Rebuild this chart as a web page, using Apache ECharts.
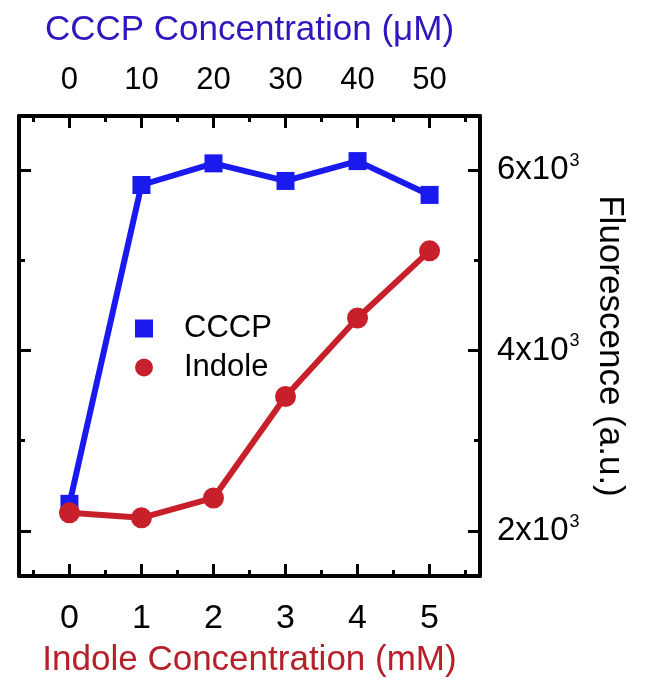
<!DOCTYPE html>
<html>
<head>
<meta charset="utf-8">
<script src="https://cdn.jsdelivr.net/npm/echarts@6/dist/echarts.min.js"></script>
<style>
  html, body { margin: 0; padding: 0; background: #fff; }
  #chart { width: 646px; height: 683px; }
</style>
</head>
<body>
<div id="chart"></div>
<script>
// concentrations (indole mM on bottom, CCCP uM on top = 10x)
const conc = [0, 1, 2, 3, 4, 5];
const cccpVals = [2300, 5835, 6075, 5880, 6100, 5725];
const indoleVals = [2200, 2145, 2365, 3490, 4360, 5105];
const majorX = [0, 1, 2, 3, 4, 5];
const minorX = [-0.5, 0.5, 1.5, 2.5, 3.5, 4.5, 5.5];
const majorY = [2000, 4000, 6000];
const minorY = [3000, 5000];

const FONT = 'Liberation Sans';
const lineStyle = { color: '#000', width: 4 };

function tickAxis(pos, ticks, len, showLine) {
    return {
        type: 'value', position: pos,
        min: -0.7, max: 5.7,
        axisLine: { show: showLine, onZero: false, lineStyle: lineStyle },
        axisTick: { show: true, inside: true, length: len, customValues: ticks, lineStyle: { color: '#000', width: 3 } },
        axisLabel: { show: false },
        splitLine: { show: false }
    };
}
function tickYAxis(pos, ticks, len, showLine) {
    return {
        type: 'value', position: pos,
        min: 1500, max: 6600,
        axisLine: { show: showLine, onZero: false, lineStyle: lineStyle },
        axisTick: { show: true, inside: true, length: len, customValues: ticks, lineStyle: { color: '#000', width: 3 } },
        axisLabel: { show: false },
        splitLine: { show: false }
    };
}

const chart = echarts.init(document.getElementById('chart'));

const xBottom = tickAxis('bottom', majorX, 12, true);
xBottom.axisLabel = { show: true, customValues: majorX, margin: 26, fontSize: 34, color: '#000', fontFamily: FONT };
xBottom.name = 'Indole Concentration (mM)';
xBottom.nameLocation = 'middle';
xBottom.nameGap = 67;
xBottom.nameTextStyle = { fontSize: 35, color: '#b5202a', fontFamily: FONT };

const xTop = tickAxis('top', majorX, 12, true);
xTop.axisLabel = { show: true, customValues: majorX, margin: 20, fontSize: 31, color: '#000', fontFamily: FONT,
    formatter: function (v) { return String(Math.round(v * 10)); } };
xTop.name = 'CCCP Concentration (\u03bcM)';
xTop.nameLocation = 'middle';
xTop.nameGap = 68;
xTop.nameTextStyle = { fontSize: 35, color: '#2d17bd', fontFamily: FONT };

const yRight = tickYAxis('right', majorY, 12, true);
yRight.axisLabel = { show: true, customValues: majorY, margin: 17, color: '#000', fontFamily: FONT,
    formatter: function (v) { return '{b|' + (v / 1000) + 'x10}{s|3}'; },
    rich: {
        b: { fontSize: 33, fontFamily: FONT, color: '#000' },
        s: { fontSize: 18, fontFamily: FONT, color: '#000', verticalAlign: 'top', padding: [0, 0, 18, 1] }
    } };
yRight.name = 'Fluorescence (a.u.)';
yRight.nameLocation = 'middle';
yRight.nameRotate = -90;
yRight.nameGap = 112;
yRight.nameTextStyle = { fontSize: 35, color: '#000', fontFamily: FONT };

chart.setOption({
    animation: false,
    grid: { left: 19, right: 166, top: 116, bottom: 105 },
    legend: {
        orient: 'vertical', left: 130, top: 308,
        itemWidth: 18, itemHeight: 18, itemGap: 8,
        textStyle: { fontSize: 31, color: '#000', fontFamily: FONT, padding: [0, 0, 0, 26] },
        data: [
            { name: 'CCCP', icon: 'rect' },
            { name: 'Indole', icon: 'circle' }
        ]
    },
    xAxis: [
        xBottom,
        tickAxis('bottom', minorX, 6, false),
        xTop,
        tickAxis('top', minorX, 6, false)
    ],
    yAxis: [
        yRight,
        tickYAxis('right', minorY, 6, false),
        tickYAxis('left', majorY, 12, true),
        tickYAxis('left', minorY, 6, false)
    ],
    series: [
        {
            name: 'CCCP', type: 'line', xAxisIndex: 0, yAxisIndex: 0,
            data: conc.map((c, i) => [c, cccpVals[i]]),
            symbol: 'rect', symbolSize: 18,
            lineStyle: { color: '#1a1aee', width: 6 },
            itemStyle: { color: '#1a1aee' }
        },
        {
            name: 'Indole', type: 'line', xAxisIndex: 0, yAxisIndex: 0,
            data: conc.map((c, i) => [c, indoleVals[i]]),
            symbol: 'circle', symbolSize: 21,
            lineStyle: { color: '#c8202a', width: 6 },
            itemStyle: { color: '#c8202a' }
        }
    ]
});
</script>
</body>
</html>
